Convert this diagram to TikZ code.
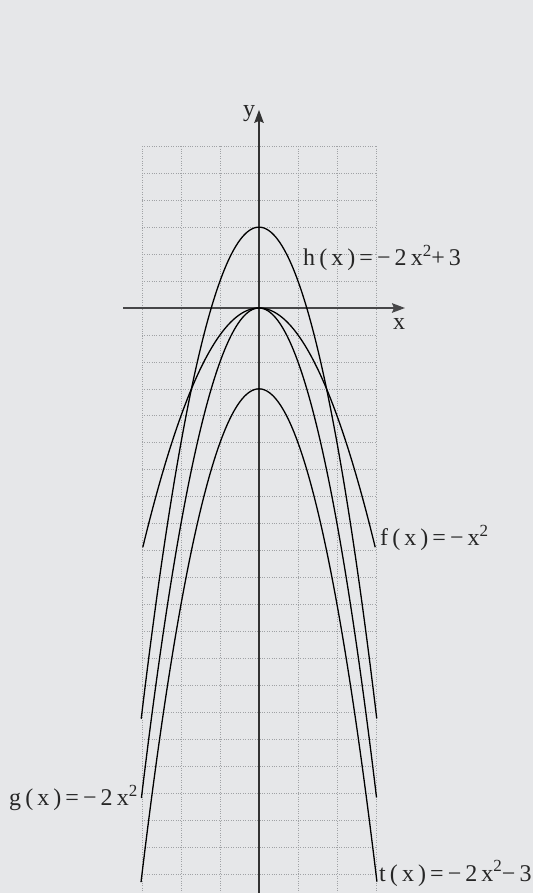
\documentclass[tikz,border=0pt]{standalone}
\usepackage{fontspec}
\setmainfont{Liberation Serif}[LetterSpace=17]
\usetikzlibrary{arrows.meta}
\definecolor{bgc}{RGB}{230,231,233}
\definecolor{gridc}{RGB}{160,162,165}
\definecolor{axc}{RGB}{70,70,72}
\newcommand\sqtwo{\raisebox{9pt}{\fontsize{17}{17}\selectfont 2}}
\tikzset{
  lbl/.style={font=\fontsize{24}{26}\selectfont, text=black!85, inner sep=0pt, anchor=base west},
  axlbl/.style={font=\fontsize{24}{26}\selectfont, text=black!85, inner sep=0pt, anchor=base},
  gridline/.style={gridc, line width=0.6pt, dash pattern=on 0.8pt off 1.6pt},
  curve/.style={black, line width=1.3pt, smooth, samples=120},
  xaxis/.style={axc, line width=1.9pt, -{Stealth[length=13pt,width=9.5pt,inset=2pt]}},
  yaxis/.style={black!80, line width=1.3pt, -{Stealth[length=13pt,width=9.5pt,inset=2pt]}}
}
\begin{document}
\begin{tikzpicture}[x=1pt,y=1pt]
\fill[bgc] (0,0) rectangle (533,893);
\useasboundingbox (0,0) rectangle (533,893);
\begin{scope}[shift={(259pt,585pt)}, x=39pt, y=26.95pt]
  \foreach \i in {-3,...,3} \draw[gridline] (\i,6) -- (\i,-21.7);
  \foreach \j in {-21,...,6} \draw[gridline] (-3,\j) -- (3,\j);
  \coordinate (xs) at (-3.487,0);
  \coordinate (xe) at (3.744,0);
  \coordinate (ys) at (0,-21.7);
  \coordinate (ye) at (0,7.35);
  \draw[xaxis] (xs) -- (xe);
  \draw[yaxis] (ys) -- (ye);
  \draw[curve, domain=-2.98:2.98] plot (\x,{-(\x)^2});
  \draw[curve, domain=-3.015:3.015] plot (\x,{-2*(\x)^2});
  \draw[curve, domain=-3.02:3.02] plot (\x,{-2*(\x)^2+3});
  \draw[curve, domain=-3.025:3.025] plot (\x,{-2*(\x)^2-3});
\end{scope}
\node[lbl] (hlab) at (303,627) {h(x)=−2x\sqtwo+3};
\node[lbl] (flab) at (380,347) {f(x)=−x\sqtwo};
\node[lbl] (tlab) at (379,12) {t(x)=−2x\sqtwo−3};
\node[lbl] (glab) at (9,87) {g(x)=−2x\sqtwo};
\node[axlbl] (xlab) at (399,563) {x};
\node[axlbl] (ylab) at (249,776) {y};
\end{tikzpicture}
\end{document}
